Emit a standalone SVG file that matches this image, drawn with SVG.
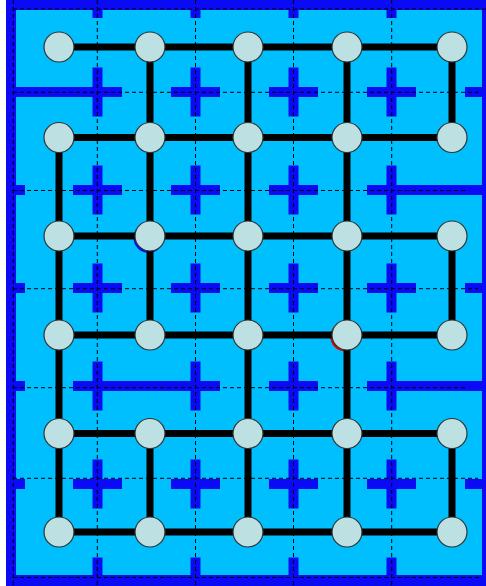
<svg xmlns="http://www.w3.org/2000/svg" xmlns:xlink="http://www.w3.org/1999/xlink" width="486" height="586" viewBox="0 0 486 586">
<style>
.wall{fill:#0a0af5}
.dash{stroke:#000;stroke-width:1;stroke-dasharray:4 3;fill:none}
.edge{stroke:#000;stroke-width:7;fill:none}
.node{fill:#bde0e2;stroke:#333;stroke-width:1.2}
</style>
<defs>
<g id="cross"><rect class="wall" x="-24.5" y="-5" width="49" height="10"/><rect class="wall" x="-5" y="-24.5" width="10" height="49"/></g>
</defs>
<rect x="0" y="0" width="486" height="586" fill="#fff"/>
<g id="frame">
<rect x="6" y="0" width="480" height="586" class="wall"/>
<rect x="16" y="10" width="466" height="565" fill="#00bfff"/>
</g>
<g id="walls">
<use xlink:href="#cross" x="97.5" y="92"/><use xlink:href="#cross" x="195.5" y="92"/><use xlink:href="#cross" x="293.5" y="92"/><use xlink:href="#cross" x="391.5" y="92"/>
<use xlink:href="#cross" x="97.5" y="190"/><use xlink:href="#cross" x="195.5" y="190"/><use xlink:href="#cross" x="293.5" y="190"/><use xlink:href="#cross" x="391.5" y="190"/>
<use xlink:href="#cross" x="97.5" y="288"/><use xlink:href="#cross" x="195.5" y="288"/><use xlink:href="#cross" x="293.5" y="288"/><use xlink:href="#cross" x="391.5" y="288"/>
<use xlink:href="#cross" x="97.5" y="386"/><use xlink:href="#cross" x="195.5" y="386"/><use xlink:href="#cross" x="293.5" y="386"/><use xlink:href="#cross" x="391.5" y="386"/>
<use xlink:href="#cross" x="97.5" y="484"/><use xlink:href="#cross" x="195.5" y="484"/><use xlink:href="#cross" x="293.5" y="484"/><use xlink:href="#cross" x="391.5" y="484"/>
<!-- top stubs -->
<rect class="wall" x="92.5" y="10" width="10" height="8"/><rect class="wall" x="190.5" y="10" width="10" height="8"/><rect class="wall" x="288.5" y="10" width="10" height="8"/><rect class="wall" x="386.5" y="10" width="10" height="8"/>
<!-- bottom stubs -->
<rect class="wall" x="92.5" y="557.5" width="10" height="18"/><rect class="wall" x="190.5" y="557.5" width="10" height="18"/><rect class="wall" x="288.5" y="557.5" width="10" height="18"/><rect class="wall" x="386.5" y="557.5" width="10" height="18"/>
<!-- left stubs -->
<rect class="wall" x="16" y="185" width="9" height="10"/><rect class="wall" x="16" y="283" width="9" height="10"/><rect class="wall" x="16" y="381" width="9" height="10"/><rect class="wall" x="16" y="479" width="9" height="10"/>
<!-- right stubs -->
<rect class="wall" x="465" y="87" width="17" height="10"/><rect class="wall" x="465" y="283" width="17" height="10"/><rect class="wall" x="465" y="479" width="17" height="10"/>
<!-- wall segments -->
<rect class="wall" x="16" y="87" width="82" height="10"/>
<rect class="wall" x="97.5" y="381" width="98" height="10"/>
<rect class="wall" x="391.5" y="185" width="91" height="10"/>
<rect class="wall" x="391.5" y="381" width="91" height="10"/>
</g>
<g id="grid">
<line class="dash" x1="13.3" y1="0" x2="13.3" y2="586"/>
<line class="dash" x1="97.3" y1="0" x2="97.3" y2="586"/>
<line class="dash" x1="195.5" y1="0" x2="195.5" y2="586"/>
<line class="dash" x1="293.5" y1="0" x2="293.5" y2="586"/>
<line class="dash" x1="391.7" y1="0" x2="391.7" y2="586"/>
<line class="dash" x1="13" y1="9" x2="486" y2="9"/>
<line class="dash" x1="13" y1="92.3" x2="478" y2="92.3"/>
<line class="dash" x1="13" y1="190.5" x2="467" y2="190.5"/>
<line class="dash" x1="13" y1="288.7" x2="478" y2="288.7"/>
<line class="dash" x1="13" y1="387.7" x2="467" y2="387.7"/>
<line class="dash" x1="13" y1="478.3" x2="478" y2="478.3"/>
<line class="dash" x1="13" y1="577.5" x2="482" y2="577.5"/>
</g>
<g id="markers">
<circle cx="148.5" cy="237.8" r="15" fill="#0a0af5"/>
<circle cx="345.2" cy="336.5" r="15" fill="#e00000"/>
</g>
<g id="connectors">
<line class="edge" x1="59" y1="47" x2="452" y2="47"/>
<line class="edge" x1="59" y1="137.5" x2="452" y2="137.5"/>
<line class="edge" x1="59" y1="236" x2="452" y2="236"/>
<line class="edge" x1="59" y1="335" x2="452" y2="335"/>
<line class="edge" x1="59" y1="433.5" x2="452" y2="433.5"/>
<line class="edge" x1="59" y1="532" x2="452" y2="532"/>
<line class="edge" x1="59" y1="137.5" x2="59" y2="532"/>
<line class="edge" x1="150" y1="47" x2="150" y2="335"/>
<line class="edge" x1="150" y1="433.5" x2="150" y2="532"/>
<line class="edge" x1="248" y1="47" x2="248" y2="532"/>
<line class="edge" x1="347" y1="47" x2="347" y2="532"/>
<line class="edge" x1="452" y1="47" x2="452" y2="137.5"/>
<line class="edge" x1="452" y1="236" x2="452" y2="335"/>
<line class="edge" x1="452" y1="433.5" x2="452" y2="532"/>
</g>
<g id="n00"><circle class="node" cx="59" cy="47" r="15"/></g>
<g id="n01"><circle class="node" cx="150" cy="47" r="15"/></g>
<g id="n02"><circle class="node" cx="248" cy="47" r="15"/></g>
<g id="n03"><circle class="node" cx="347" cy="47" r="15"/></g>
<g id="n04"><circle class="node" cx="452" cy="47" r="15"/></g>
<g id="n10"><circle class="node" cx="59" cy="137.5" r="15"/></g>
<g id="n11"><circle class="node" cx="150" cy="137.5" r="15"/></g>
<g id="n12"><circle class="node" cx="248" cy="137.5" r="15"/></g>
<g id="n13"><circle class="node" cx="347" cy="137.5" r="15"/></g>
<g id="n14"><circle class="node" cx="452" cy="137.5" r="15"/></g>
<g id="n20"><circle class="node" cx="59" cy="236" r="15"/></g>
<g id="n21"><circle class="node" cx="150" cy="236" r="15"/></g>
<g id="n22"><circle class="node" cx="248" cy="236" r="15"/></g>
<g id="n23"><circle class="node" cx="347" cy="236" r="15"/></g>
<g id="n24"><circle class="node" cx="452" cy="236" r="15"/></g>
<g id="n30"><circle class="node" cx="59" cy="335" r="15"/></g>
<g id="n31"><circle class="node" cx="150" cy="335" r="15"/></g>
<g id="n32"><circle class="node" cx="248" cy="335" r="15"/></g>
<g id="n33"><circle class="node" cx="347" cy="335" r="15"/></g>
<g id="n34"><circle class="node" cx="452" cy="335" r="15"/></g>
<g id="n40"><circle class="node" cx="59" cy="433.5" r="15"/></g>
<g id="n41"><circle class="node" cx="150" cy="433.5" r="15"/></g>
<g id="n42"><circle class="node" cx="248" cy="433.5" r="15"/></g>
<g id="n43"><circle class="node" cx="347" cy="433.5" r="15"/></g>
<g id="n44"><circle class="node" cx="452" cy="433.5" r="15"/></g>
<g id="n50"><circle class="node" cx="59" cy="532" r="15"/></g>
<g id="n51"><circle class="node" cx="150" cy="532" r="15"/></g>
<g id="n52"><circle class="node" cx="248" cy="532" r="15"/></g>
<g id="n53"><circle class="node" cx="347" cy="532" r="15"/></g>
<g id="n54"><circle class="node" cx="452" cy="532" r="15"/></g>
</svg>
